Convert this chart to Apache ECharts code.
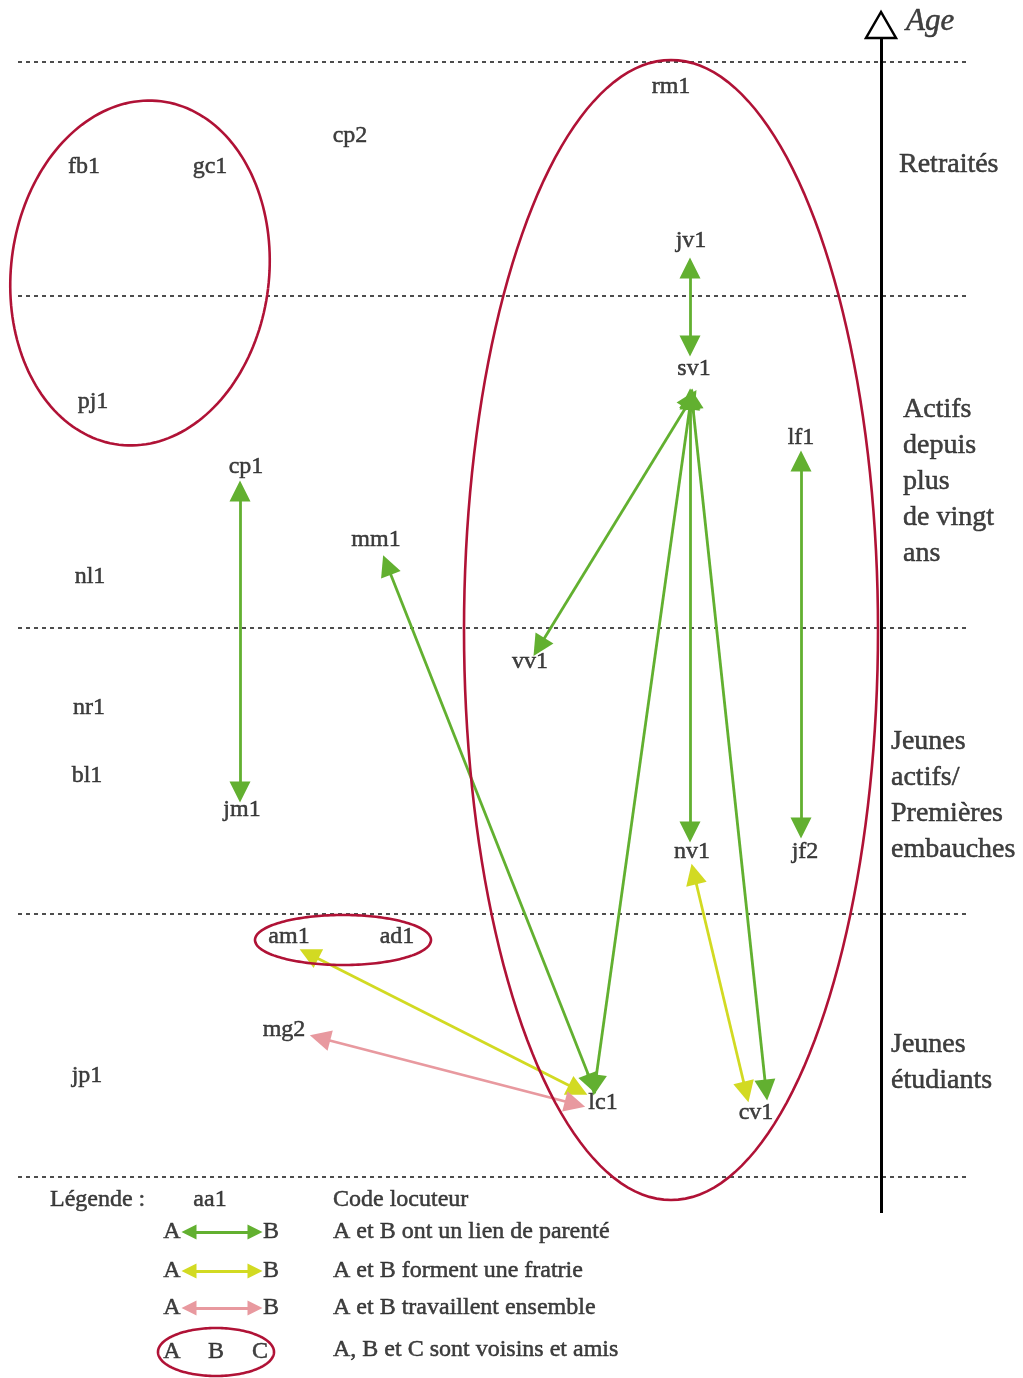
<!DOCTYPE html>
<html><head><meta charset="utf-8">
<script src="https://cdn.jsdelivr.net/npm/echarts@6/dist/echarts.min.js"></script>
<style>html,body{margin:0;padding:0;background:#fff}#c{width:1023px;height:1378px}</style>
</head><body><div id="c"></div>
<script>
// Speakers (label centre positions, in page units)
const nodeNames = ['rm1','cp2','fb1','gc1','jv1','sv1','pj1','lf1','cp1','mm1','nl1','vv1','nr1','bl1','jm1','nv1','jf2','am1','ad1','mg2','jp1','lc1','cv1'];
const nodeX = [671,350,84,210,691,694,93,801,246,376,90,530,89,87,242,692,805,289,397,284,87,603,756];
const nodeY = [87,136,167,167,241,369,402,438,467,540,577,662,708,776,810,852,852,937,937,1030,1076,1103,1113];

// Relations (arrow end points)
const parenteLinks = [
  [[690,268],[690,346]],
  [[240,491],[240,792]],
  [[801,461],[801,828]],
  [[691,399],[539,647]],
  [[690,399],[690,832]],
  [[691,399],[595,1085]],
  [[692,399],[766,1090]],
  [[387,565],[592,1084]]
];
const fratrieLinks = [
  [[309,954],[578,1090]],
  [[694,874],[746,1092]]
];
const travailLinks = [
  [[320,1038],[575,1104]]
];
// Neighbours/friends groups: [cx, cy, rx, ry, rotationDeg]
const voisinsGroups = [
  [671,630,207,570,0],
  [140,273,129,173,7],
  [343,940,88,25,0]
];

// Age bands
const bandLines = [62,296,628,914,1177];
const bandLabels = ['Retraités','Actifs','depuis','plus','de vingt','ans','Jeunes','actifs/','Premières','embauches','Jeunes','étudiants'];
const bandLabelX = [899,903,903,903,903,903,891,891,891,891,891,891];
const bandLabelY = [165,410,446,482,518,554,742,778,814,850,1045,1081];

// Legend
const legendTexts = ['Légende :','Code locuteur','A et B ont un lien de parenté','A et B forment une fratrie','A et B travaillent ensemble','A, B et C sont voisins et amis'];
const legendTextX = [50,333,333,333,333,333];
const legendTextY = [1200,1200,1232,1271,1308,1350];
const legendLetters = ['aa1','A','B','A','B','A','B','A','B','C'];
const legendLetterX = [210,172,271,172,271,172,271,172,216,260];
const legendLetterY = [1200,1232,1232,1271,1271,1308,1308,1352,1352,1352];
const legendArrowY = [1232,1271,1308];

const GREEN = '#62b030', YELLOW = '#d2da22', PINK = '#e8999f', RED = '#b01236';
const FONT = 'Liberation Serif';
const INK = '#111111';

const chart = echarts.init(document.getElementById('c'), null, {renderer:'canvas'});

function linesSeries(links, color, width, symbols, dash, z, size) {
  return {
    type:'lines', coordinateSystem:'cartesian2d', z: z || 3,
    symbol: symbols, symbolSize: size || 21,
    lineStyle:{color: color, width: width, opacity:1, type: dash || 'solid'},
    itemStyle:{color: color},
    data: links.map(l => ({coords: l})),
    silent:true, animation:false
  };
}
function textSeries(names, xs, ys, size, align, extra) {
  return {
    type:'scatter', symbolSize:0, z:10, silent:true, animation:false,
    data: names.map((n,i)=>({name:n, value:[xs[i], ys[i]]})),
    label: Object.assign({show:true, position:'inside', formatter: p=>p.name, color: INK,
      textBorderColor: INK, textBorderWidth:0.5, fontFamily: FONT, fontSize: size, align: align, verticalAlign:'middle'}, extra || {})
  };
}

const legendLinks = legendArrowY.map(y => [[189,y],[255,y]]);

const option = {
  animation:false,
  grid:{left:0,right:0,top:0,bottom:0},
  xAxis:{type:'value', min:0, max:1023, show:false},
  yAxis:{type:'value', min:0, max:1378, inverse:true, show:false},
  series:[
    // dashed band separators
    linesSeries(bandLines.map(y=>[[18,y],[970,y]]), '#222', 1.6, ['none','none'], [4,4], 1),
    // age axis
    linesSeries([[[881,1213],[881,38]]], '#000', 3, ['none','none'], 'solid', 2),
    {
      type:'custom', coordinateSystem:'cartesian2d', silent:true, animation:false, z:2,
      data:[[881,12]],
      renderItem:(params, api)=>{
        const p = api.coord([api.value(0), api.value(1)]);
        return {type:'polygon', shape:{points:[[p[0],p[1]],[p[0]-15,p[1]+26],[p[0]+15,p[1]+26]]},
          style:{fill:'#fff', stroke:'#000', lineWidth:2.5}};
      }
    },
    // neighbour groups (ellipses)
    {
      type:'custom', coordinateSystem:'cartesian2d', silent:true, animation:false, z:4,
      data: voisinsGroups.concat([[216,1352,58,24,0]]),
      renderItem:(params, api)=>{
        const cx=api.value(0), cy=api.value(1), rx=api.value(2), ry=api.value(3), rot=api.value(4)*Math.PI/180;
        const pts=[];
        for(let k=0;k<=180;k++){
          const t=k/180*Math.PI*2;
          const ex=rx*Math.cos(t), ey=ry*Math.sin(t);
          pts.push(api.coord([cx+ex*Math.cos(rot)-ey*Math.sin(rot), cy+ex*Math.sin(rot)+ey*Math.cos(rot)]));
        }
        return {type:'polyline', shape:{points:pts}, style:{fill:null, stroke:RED, lineWidth:2.6}};
      }
    },
    linesSeries(parenteLinks, GREEN, 2.8, ['triangle','triangle']),
    linesSeries(fratrieLinks, YELLOW, 2.8, ['triangle','triangle']),
    linesSeries(travailLinks, PINK, 2.8, ['triangle','triangle']),
    // legend arrows
    linesSeries([legendLinks[0]], GREEN, 2.8, ['triangle','triangle'], 'solid', 3, 15),
    linesSeries([legendLinks[1]], YELLOW, 2.8, ['triangle','triangle'], 'solid', 3, 15),
    linesSeries([legendLinks[2]], PINK, 2.8, ['triangle','triangle'], 'solid', 3, 15),
    textSeries(nodeNames, nodeX, nodeY, 24, 'center'),
    textSeries(bandLabels, bandLabelX, bandLabelY, 28, 'left'),
    textSeries(['Age'], [906], [22], 31, 'left', {fontStyle:'italic'}),
    textSeries(legendTexts, legendTextX, legendTextY, 24, 'left'),
    textSeries(legendLetters, legendLetterX, legendLetterY, 24, 'center')
  ]
};
chart.setOption(option);
</script>
</body></html>
